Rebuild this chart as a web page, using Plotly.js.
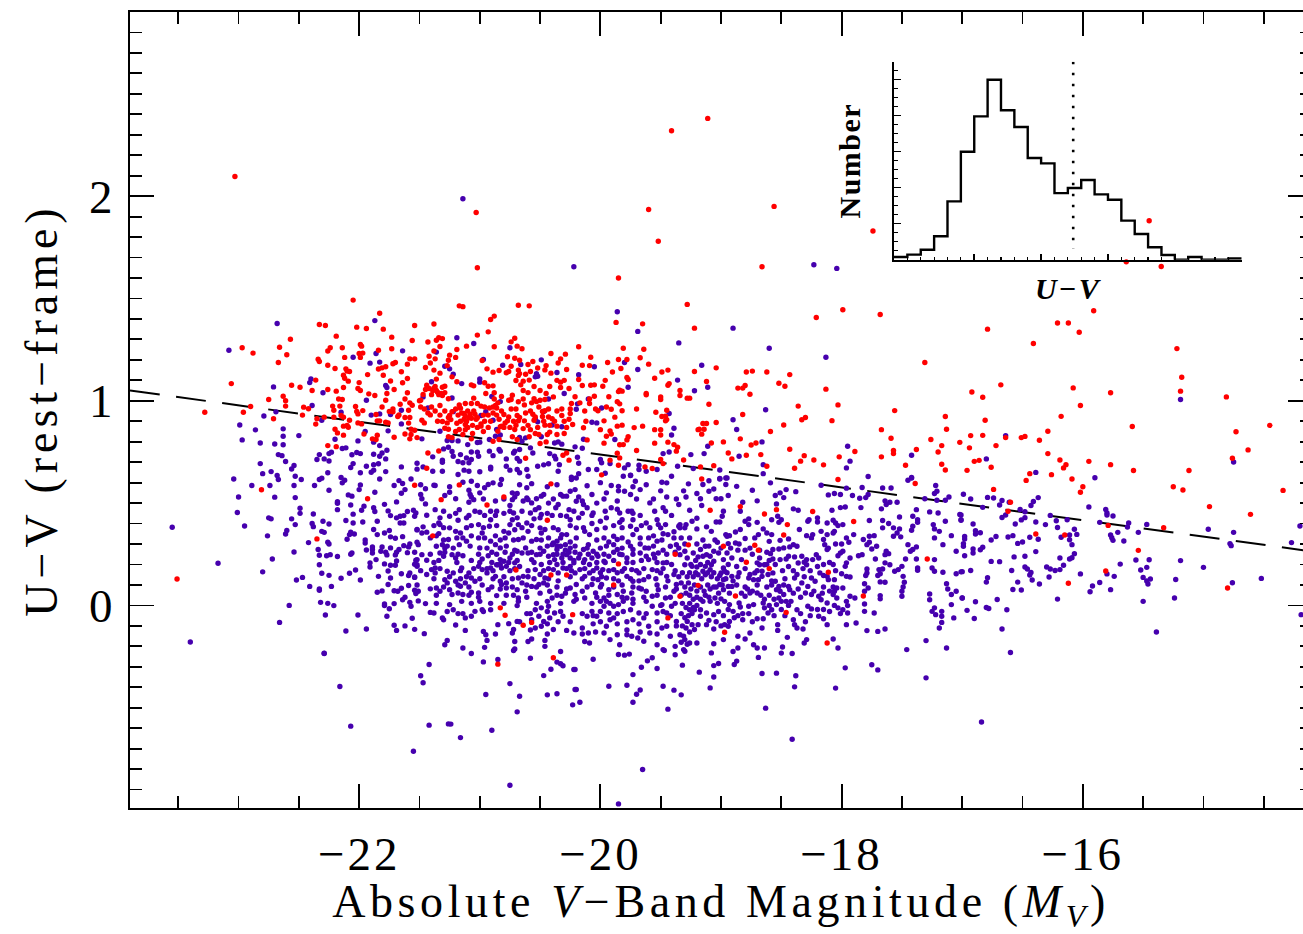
<!DOCTYPE html>
<html><head><meta charset="utf-8">
<script src="https://cdn.plot.ly/plotly-3.0.1.min.js"></script>
<style>
html,body{margin:0;padding:0;background:#fff;overflow:hidden;width:1303px;height:934px}
#chart{width:1325px;height:934px}
.xtitle{letter-spacing:4.6px}
.ytitle{letter-spacing:5px}
.x2title{letter-spacing:2px}
.y2title{letter-spacing:1.5px}
.xtick text{letter-spacing:3px}
</style></head><body><div id="chart"></div>
<script>
// values, as flat magnitude,colour pairs
const purpleOutliers=[-21.14,1.987,-20.22,1.655,-18.23,1.665,-18.04,1.647,-17.7,-.315,-17.75,-.29,-17.3,-.354,-16.84,-.57,-16.6,-.23,-15.39,-.13];
const purpleBottom=[-22.29,-.235,-22.16,-.396,-22.07,-.59,-21.42,-.289,-21.49,-.344,-21.47,-.378,-21.42,-.585,-21.26,-.579,-21.24,-.58,-21.16,-.646,-21.55,-.713,-20.9,-.61,-20.75,-.879,-20.69,-.52,-20.67,-.444,-20.75,-.382,-20.95,-.435,-20.97,-.276,-20.85,-.264,-21.07,-.235,-20.58,-.258,-20.47,-.343,-20.41,-.312,-20.36,-.277,-20.33,-.285,-20.31,-.295,-20.22,-.313,-20.44,-.437,-20.36,-.432,-20.21,-.411,-20.23,-.486,-20.17,-.473,-20.72,-.22,-20.33,-.225,
-20.06,-.263,-20.21,-.313,-20.2,-.411,-19.85,-.24,-19.8,-.243,-19.76,-.238,-19.61,-.271,-19.57,-.256,-19.66,-.302,-19.73,-.338,-19.53,-.308,-19.93,-.395,-19.78,-.39,-19.67,-.413,-19.7,-.434,-19.73,-.473,-19.48,-.395,-19.39,-.414,-19.33,-.437,-19.44,-.507,-19.65,-.802,-19.85,-.97,-19.38,-.241,-19.32,-.292,-19.18,-.326,-19.06,-.294,-19.02,-.284,-19.06,-.35,-19.09,-.403,-18.89,-.289,-18.87,-.272,-18.69,-.254,-18.66,-.333,-18.54,-.331,-18.38,-.344,-18.39,-.398,-18.63,-.502,-18.41,-.654,-18.05,-.404,-17.97,-.305,-18.5,-.233,-18.41,-.235,-19.08,-.232,-18.9,-.225,-19.47,-.22,-19.3,-.224];
const purpleLeftLow=[-23.04,.618,-22.8,.644,-22.73,.654,-22.68,.635,-22.67,.615,-22.89,.586,-22.74,.586,-22.54,.586,-22.53,.631,-22.48,.615,-23,.53,-22.7,.529,-22.53,.527,-22.37,.586,-22.33,.615,-22.31,.622,-22.26,.648,-22.25,.563,-22.15,.625,-22.12,.612,-22.14,.599,-21.99,.648,-21.99,.589,-22,.566,-21.9,.651,-21.88,.661,-21.78,.654,-21.83,.618,-21.71,.586,-21.67,.61,-21.64,.596,-21.57,.618,-21.62,.566,-21.65,.548,-21.87,.553,-22.09,.54,-22.06,.534,-21.69,.506,-22.18,.507,-22.18,.499,-22.07,.491,-21.79,.494,-22.18,.468,-21.98,.465,-21.96,.485,-21.88,.477,-21.87,.459,-22.49,.475,-23.01,.454,-22.49,.45,-22.38,.447,-22.05,.446,-21.76,.462,-21.74,.439,-21.69,.428,-21.66,.436,-21.63,.439,-21.6,.459,-21.55,.465,-21.53,.452,-21.54,.436,-22.75,.428,-22.73,.423,-22.56,.423,-22.95,.388,-23.55,.382,-22.53,.395,-22.39,.4,-22.38,.385,-22.3,.411,-22.25,.398,-22.11,.415,-22.05,.403,-21.97,.408,-21.85,.411,-21.66,.403,-21.63,.403,-21.52,.369,-21.88,.371,-21.75,.366,-21.79,.354,-21.85,.346,-22.6,.366,-22.61,.349,-22.31,.362,-22.29,.357,-22.07,.358,-22.08,.346,-22.04,.349,-22.76,.34,-21.74,.335,-21.7,.328,-21.64,.336,-22.1,.323,-21.95,.32,-21.95,.305,-22.42,.307,-22.26,.309,-22.25,.3,-21.52,.309,-21.58,.3,-21.59,.286,-21.63,.292,-21.67,.273,-21.69,.26,-21.7,.247,-21.89,.286,-21.94,.271,-21.89,.273,-21.89,.256,-21.81,.286,-21.82,.265,-21.74,.281,-21.78,.26,-21.77,.247,-21.6,.258,-22.54,.261,-22.34,.273,-22.33,.245,-22.27,.243,-22.24,.248,-22.18,.239,-22.07,.25,-22.06,.256,-22.72,.227,-23.17,.206,-21.86,.224,-21.53,.221,-21.54,.201,-21.52,.191,-21.91,.208,-21.91,.188,-21.79,.203,-21.74,.196,-21.7,.196,-21.69,.217,-22.33,.199,-21.76,.168,-22.8,.164,-22.31,.157,-22.25,.147,-22.08,.157,-22.03,.173,-22.15,.133,-21.99,.124,-22.47,.137,-22.52,.124,-21.84,.142,-21.74,.134,-21.65,.155,-21.58,.159,-21.59,.146,-21.54,.137,-22.41,.093,-22.23,.093,-22.33,.08,-22.33,.074,-21.76,.102,-21.59,.097,-21.85,.064,-21.81,.071,-21.71,.072,-21.68,.069,-21.65,.084,-21.54,.074,-21.53,.058,-21.51,.069,-21.64,.028,-21.62,.04,-21.51,.022,-22.32,.015,-22.26,.01,-22.21,-.001,-22.58,0,-21.79,.007,-21.79,-.001,-21.71,.009,-21.75,-.016,-21.58,.015,-21.57,-.004,-22.28,-.047,-22.01,-.047,-21.77,-.053,-21.56,-.063,-22.66,-.083,-21.71,-.097,-21.69,-.122,-21.62,-.1,-21.54,-.117,-22.11,-.125,-21.94,-.115,-23.4,-.179,-22.29,-.234];
const purpleLeftHigh=[-22.68,1.378,-23.08,1.247,-21.87,1.392,-21.64,1.244,-21.86,1.231,-22.05,1.213,-21.91,1.184,-21.83,1.189,-22.4,1.107,-22.41,1.089,-22.71,1.068,-22.3,1.039,-21.78,1.075,-21.77,1.065,-21.94,1.003,-22.39,.977,-22.69,.946,-22.79,.926,-22.15,.944,-21.65,.954,-21.9,.93,-21.83,.936,-21.74,.933,-22.31,.905,-22.99,.882,-21.65,.887,-22.86,.858,-22.63,.863,-22.63,.827,-22.5,.83,-22.97,.809,-22.82,.794,-22.7,.789,-22.63,.785,-21.95,.85,-21.76,.853,-22.01,.804,-21.88,.798,-21.83,.781,-22.2,.812,-22.14,.767,-22.11,.77,-21.77,.758,-22.67,.737,-22.64,.732,-22.33,.737,-22.35,.713,-22.29,.716,-22.25,.742,-22.23,.749,-22.25,.706,-22.06,.736,-22.02,.747,-21.99,.742,-21.88,.739,-21.81,.745,-21.83,.729,-21.78,.716,-22.61,.703,-22.82,.693,-22.54,.684,-22.56,.667,-22.05,.693,-22.07,.674,-21.88,.688,-21.84,.692,-21.94,.68,-21.65,.677,-21.52,.695,-21.52,.666];
const purpleMidHigh=[-19.86,1.435,-19.69,1.339,-19.35,1.283,-21.19,1.308,-21.05,1.28,-20.75,1.259,-21.36,1.238,-20.97,1.202,-20.81,1.174,-20.66,1.177,-20.49,1.2,-21.29,1.169,-21.25,1.156,-21.22,1.13,-20.36,1.138,-20.53,1.132,-20.52,1.12,-20.54,1.117,-20.18,1.127,-20.05,1.166,-19.8,1.187,-19.69,1.153,-19.36,1.101,-19.22,1.049,-21.4,1.093,-21,1.107,-21,1.091,-21.15,1.084,-19.77,1.066,-20.3,1.036,-21.47,1.019,-21.23,1.014,-20.9,1.021,-20.1,1.009,-20.83,.996,-20.43,1.009,-21.43,.965,-20.19,.985,-20.2,.959,-19.99,.965,-20.95,.947,-20.99,.928,-21.22,.947,-20.47,.948,-19.43,.938,-20.54,.912,-20.52,.897,-20.89,.905,-20.07,.895,-20.03,.892,-19.39,.866,-21.33,.851,-20.86,.86,-20.4,.882,-20.32,.873,-21.48,.814,-19.41,.833,-21.18,.804,-21.27,.806,-21.23,.806,-19.88,.811,-20.83,.833,-20.87,.827,-20.92,.811,-20.62,.819,-20.65,.802,-20.67,.821,-20.49,.824,-20.14,.812,-21.1,.786,-21.02,.796,-21,.798,-20.38,.794,-20.35,.799,-20.32,.788,-20.58,.77,-20.56,.745,-20.21,.775,-20.15,.768,-21.3,.765,-21.26,.773,-20.92,.754,-20.84,.762,-20.83,.754,-20.71,.754,-20.72,.745,-20.67,.762,-21.23,.752,-21.16,.737,-21.22,.729,-21.07,.75,-21.02,.749,-21.01,.729,-20.89,.732,-20.78,.716,-20.69,.718,-20.67,.705,-20.42,.742,-20.38,.729,-20.37,.716,-20.19,.724,-20.18,.695,-20.34,.688,-21.31,.71,-21.31,.7,-21.39,.726,-21.11,.721,-21.07,.713,-21.14,.697,-21.09,.697,-21.18,.703,-20.91,.675,-20.78,.68,-20.69,.664,-20.75,.661,-20.52,.68,-20.47,.687,-20.43,.692,-20,.713,-20.1,.664,-20.03,.664,-19.99,.697,-19.92,.693,-19.77,.688,-19.8,.672,-19.68,.685,-19.68,.664,-19.62,.656,-19.53,.664,-19.48,.742,-19.43,.75,-19.36,.68,-19.41,.631,-19.23,.669,-19.25,.737,-21.47,.677,-21.39,.656,-21.31,.656,-21.18,.64,-21.13,.661,-21.09,.656,-21,.653,-20.91,.667,-20.67,.648,-20.61,.664,-20.6,.631,-20.35,.656,-20.24,.626,-20.18,.644,-19.96,.646,-19.81,.631,-19.75,.636,
-18.9,1.355,-18.6,1.257,-18.13,1.213,-19.16,1.174,-19.11,1.066,-18.63,.956,-18.9,.907,-18.87,.86,-18.66,.799,-19.11,.778,-17.95,.778,-19.14,.742,-18.85,.729,-17.42,.734,-17.93,.705,-18.65,.688,-18.65,.644,-17.96,.672,-17.78,.63,-19.01,.662,-19.01,.62,-18.95,.623,-17.42,.623];
const purpleRight=[-19.27,.594,-19.1,.609,-19.15,.591,-19.01,.618,-18.96,.623,-18.96,.591,-18.87,.582,-18.59,.599,-19.31,.56,-19.2,.547,-19.1,.558,-19.06,.569,-18.94,.537,-18.74,.563,-19.29,.53,-19.17,.521,-19.04,.521,-19,.521,-18.46,.566,-18.51,.55,-18.55,.537,-18.48,.527,-18.38,.556,-18.17,.587,-18.11,.54,-18.06,.547,-18.01,.542,-17.96,.573,-17.83,.576,-17.91,.537,-17.85,.524,-17.8,.527,-17.78,.542,-17.66,.574,-17.59,.574,-17.45,.612,-17.42,.625,-17.22,.586,-17.21,.558,-17.23,.547,-17.11,.53,-17.54,.504,-17.6,.504,-17.64,.511,-17.63,.493,-17.31,.521,-17.21,.514,-17.14,.514,-19.16,.488,-19.26,.465,-18.82,.504,-18.7,.511,-18.54,.496,-18.98,.46,-18.99,.436,-18.84,.46,-18.4,.472,-18.36,.465,-18.08,.465,-18.01,.478,-17.97,.481,-17.84,.478,-17.67,.472,-17.52,.432,-17.38,.468,-17.41,.436,-17.27,.457,-17.2,.452,-17.37,.419,-17.37,.406,-17.02,.444,-17.01,.419,-18.53,.436,-18.5,.419,-18.52,.406,-18.58,.419,-18.77,.423,-18.8,.411,-18.7,.406,-19.2,.426,-19.24,.411,-19.29,.395,-19.34,.395,-19.04,.408,-19.01,.408,-18.2,.428,-18.27,.419,-18.28,.411,-18.2,.408,-18.12,.403,-18.07,.416,-18.05,.403,-18.03,.39,-17.99,.395,-17.9,.346,-17.77,.415,-17.66,.415,-17.66,.379,-17.61,.4,-17.57,.379,-17.52,.374,-17.54,.354,-17.51,.335,-17.57,.338,-17.41,.387,-17.42,.367,-17.24,.395,-17.23,.374,-17.19,.362,-17.23,.33,-17.14,.411,-17.09,.341,-18.77,.395,-18.84,.371,-18.88,.359,-18.93,.341,-18.96,.346,-18.95,.338,-19.2,.374,-19.12,.384,-19.08,.362,-19.3,.379,-19.34,.379,-19.26,.33,-18.65,.374,-18.62,.354,-18.58,.346,-18.69,.346,-18.72,.33,-18.8,.327,-18.88,.305,-19.03,.309,-18.94,.302,-18.35,.371,-18.29,.341,-18.25,.33,-18.24,.346,-18.17,.362,-18.12,.346,-18.15,.322,-18.07,.354,-18.06,.362,-17.96,.33,-17.94,.309,-17.82,.322,-17.77,.338,-17.73,.341,-17.77,.309,-17.79,.297,-17.71,.289,-17.75,.276,-18.14,.297,-18.12,.273,-18.6,.313,-18.51,.318,-18.44,.325,-18.4,.297,-18.37,.289,-18.43,.286,-18.48,.281,-18.52,.276,-18.57,.273,-18.62,.26,-18.59,.253,-17.45,.297,-17.38,.286,-17.41,.273,-17.43,.265,-17.05,.265,-17.16,.297,-17.63,.265,-17.64,.248,-17.61,.253,-18.01,.256,-17.99,.265,-18.03,.243,-17.86,.243,-17.83,.248,-17.93,.232,-17.96,.208,-17.97,.191,-17.72,.227,-17.64,.208,-17.6,.199,-17.47,.227,-17.38,.227,-17.23,.224,-18.21,.248,-18.19,.232,-18.24,.224,-18.29,.224,-18.31,.211,-18.39,.237,-18.36,.207,-18.29,.199,-18.51,.224,-18.46,.227,-18.57,.227,-18.68,.232,-18.7,.208,-18.68,.199,-18.64,.199,-18.83,.224,-18.91,.232,-18.98,.224,-19.06,.216,-19.08,.199,-19.17,.273,-19.13,.289,-19.12,.248,-19.06,.265,-19.02,.256,-18.95,.256,-19.3,.265,-19.34,.248,-19.23,.256,-19.28,.232,-19.19,.237,-19.3,.199,-19.24,.191,-19.2,.188,-19.13,.191,-19.09,.175,-19.15,.167,-18.98,.183,-19,.159,-18.97,.167,-18.91,.142,-19.01,.146,-18.98,.126,-18.76,.151,-18.72,.159,-18.77,.134,-18.73,.126,-18.66,.167,-18.66,.142,-18.61,.151,-18.57,.159,-18.69,.126,-18.37,.151,-18.39,.134,-18.25,.134,-18.22,.118,-18.18,.159,-18.15,.146,-18.12,.142,-18.06,.126,-18.11,.126,-18,.155,-17.96,.142,-17.93,.139,-17.79,.178,-17.79,.159,-17.8,.146,-17.69,.175,-17.68,.155,-17.7,.146,-17.66,.178,-17.56,.167,-17.53,.175,-17.5,.191,-17.37,.183,-17.37,.172,-17.25,.183,-17.23,.167,-17.16,.162,-17.05,.155,-17.01,.164,-17.49,.142,-17.48,.113,-17.49,.09,-17.5,.069,-17.5,.045,-17.68,.115,-17.64,.113,-17.81,.106,-17.78,.085,-17.81,.069,-18.07,.09,-18.04,.085,-17.99,.085,-18.06,.069,-18.07,.053,-18.04,.036,-17.93,.045,-17.96,.02,-17.95,-.001,-17.89,.036,-17.68,.048,-17.68,.032,-17.81,.007,-17.13,.106,-17.12,.08,-17.09,.053,-17.05,.069,-17,.036,-17.27,.056,-17.27,.028,-17.09,.004,-17.23,-.012,-17.25,-.029,-17.22,-.045,-17.17,-.029,-17.17,-.053,-17.07,-.061,-17.17,-.083,-17.19,-.11,-18.55,.118,-18.52,.093,-18.54,.077,-18.51,.069,-18.43,.077,-18.44,.093,-18.28,.093,-18.3,.061,-18.19,.045,-18.17,.028,-18.25,.053,-18.28,-.004,-18.25,-.017,-18.12,.012,-18.03,-.012,-17.99,-.021,-17.95,-.037,-18.01,-.04,-18.48,.053,-18.52,.036,-18.5,.02,-18.54,.004,-18.46,.02,-18.37,-.021,-18.42,.02,-18.39,-.094,-18.37,-.11,-18.32,-.115,-18.65,.012,-18.64,-.012,-18.61,-.037,-18.58,-.021,-18.7,.061,-18.76,.061,-18.8,.045,-18.77,-.004,-18.73,.004,-18.85,.012,-18.84,-.008,-18.93,.004,-18.9,-.029,-18.86,-.05,-18.82,-.04,-18.82,-.07,-18.7,-.065,-18.65,-.065,-19.01,.102,-18.98,.077,-18.94,.093,-18.91,.093,-19.05,.036,-19,.032,-19.09,.02,-19.15,.02,-19.17,-.021,-19.26,-.021,-19.22,-.021,-19.17,-.053,-19.12,-.037,-19.06,-.045,-19.1,-.073,-19.12,-.094,-19.28,-.078,-19.24,-.094,-19.22,-.118,-19.19,-.094,-19.06,-.115,-18.93,-.078,-18.94,-.102,-18.97,-.094,-19.34,-.143,-19.3,-.167,-19.26,-.184,-19.2,-.184,-19.31,-.216,-19.06,-.187,-18.98,-.167,-18.86,-.151,-18.8,-.164,-18.76,-.135,-18.73,-.192,-18.7,-.208,-18.66,-.11,-18.86,-.208,-18.64,-.208,-18.53,-.094,-18.53,-.122,-18.45,-.156,-18.31,-.184,-18.29,-.167,-18.49,-.203,-18.19,-.053,-18.15,-.065,-18.12,-.094,-17.96,-.094,-17.88,-.086,-18.03,-.208,-18.07,-.164,-17.79,-.123,-17.7,-.127,-17.64,-.115,-17.46,-.216,-17.3,-.172,-17.13,-.208,-17.73,-.037,-17.81,-.029];
const purpleRightDense=[-19.32,.16,-19.28,.14,-19.26,.16,-19.23,.14,-19.21,.16,-19.19,.15,-19.16,.13,-19.13,.15,-19.11,.16,-19.08,.14,-19.06,.16,-19.33,.11,-19.3,.09,-19.27,.11,-19.25,.08,-19.22,.1,-19.2,.07,-19.17,.09,-19.14,.07,-19.11,.1,-19.09,.08,-19.06,.09,-19.33,.05,-19.29,.06,-19.26,.05,-19.23,.03,-19.2,.04,-19.17,.03,-19.13,.05,-19.1,.04,-19.32,.01,-19.29,-.01,-19.26,.01,-19.23,-.01,-19.2,0,-19.33,-.04,-19.3,-.06,-19.27,-.05,-19.24,-.04,-19.32,-.1,-19.29,-.11,-19.26,-.13,-19.33,-.18,-19.28,-.19,-19.03,.13,-19.04,.09,-19.02,.06,-18.99,.1,-18.96,.13,-18.93,.06,-18.9,.12,-18.87,.1,-18.86,.14,-18.83,.06,-18.8,.09,-18.78,.08,-18.74,.07,-18.7,.1,-18.67,.05,-18.62,.09,-18.6,.05,-18.64,.03,-18.58,.1,-18.56,.03,-18.48,.1,-18.47,.13,-18.58,.12,-18.33,.11,-18.31,.14,-18.36,.08,-18.34,.04,-18.4,.06,-18.23,.07,-18.15,.09,-18.16,.06,-18.1,.07,-18.94,-.02,-18.98,-.05,-19.02,-.03,-19.04,-.08,-19,-.1,-19.03,.01,-18.97,.02,-18.89,-.06,-18.77,-.04,-18.74,-.08,-18.6,0,-18.56,-.05,-18.5,-.02,-18.47,-.05,-18.44,0,-18.4,-.07,-18.34,-.04,-18.3,-.08,-18.26,-.05,-18.2,-.02,-18.15,-.02,-18.1,-.03,-18.06,0,-19.25,.2,-19.21,.22,-19.17,.2,-19.11,.21,-19.09,.24,-19.15,.24,-19.2,.3,-19.15,.32,-19.1,.29,-19.05,.32,-19.3,.3,-19.33,.33,-19,.28,-18.92,.28,-18.86,.27,-18.8,.27,-18.85,.3,-18.76,.28,-18.74,.25,-18.68,.27,-18.8,.18,-18.87,.19,-18.94,.2,-18.95,.16,-18.85,.16,-18.7,.17,-18.62,.2,-18.6,.22,-18.55,.2,-18.49,.17,-18.44,.19,-18.4,.17,-18.44,.24,-18.33,.24,-18.32,.18,-18.26,.17,-18.2,.19,-18.15,.2,-18.1,.21,-18.07,.2,-18.05,.17,-18.11,.28,-18.05,.3,-18,.3];
const purpleCenter=[-21.38,.587,-21.37,.586,-21.49,.542,-21.48,.521,-21.45,.496,-21.25,.553,-21.29,.537,-21.14,.602,-21.09,.563,-21.07,.607,-21.08,.542,-21.05,.517,-21.09,.504,-21.2,.521,-21.02,.586,-21,.55,-20.93,.591,-20.89,.599,-20.83,.591,-20.82,.615,-20.73,.55,-20.69,.547,-20.71,.53,-20.73,.517,-20.75,.488,-20.61,.525,-20.57,.501,-20.6,.517,-20.49,.534,-20.53,.521,-20.47,.542,-20.33,.542,-20.31,.534,-20.28,.534,-20.25,.558,-20.21,.566,-20.24,.615,-20.2,.623,-20.07,.542,-19.95,.55,-19.91,.586,-19.85,.582,-19.75,.542,-19.8,.558,-19.71,.607,-19.67,.566,-19.75,.635,-19.59,.501,-19.48,.477,-19.49,.602,-19.45,.599,-19.46,.46,-19.35,.493,
-21.37,.468,-21.33,.428,-21.34,.403,-21.44,.441,-21.25,.436,-21.17,.468,-21.18,.416,-21.11,.428,-21.04,.46,-21,.455,-20.91,.419,-20.91,.46,-20.86,.46,-20.92,.387,-20.75,.46,-20.72,.452,-20.69,.428,-20.73,.419,-20.68,.395,-20.61,.403,-20.75,.395,-20.54,.468,-20.51,.477,-20.49,.444,-20.58,.452,-20.55,.423,-20.5,.428,-20.37,.477,-20.35,.493,-20.26,.468,-20.22,.46,-20.2,.509,-20.14,.493,-20.11,.477,-20.18,.428,-20.28,.436,-20.25,.419,-20.06,.452,-20,.411,-19.95,.428,-19.91,.477,-19.84,.452,-19.82,.419,-19.84,.406,-19.77,.46,-19.74,.46,-19.73,.419,-19.62,.403,-19.53,.419,-19.52,.395,-19.5,.379,-19.46,.395,
-21.47,.384,-21.52,.371,-21.44,.358,-21.48,.354,-21.33,.395,-21.34,.351,-21.25,.379,-21.26,.322,-21.2,.362,-21.16,.354,-21.14,.33,-21.11,.314,-21.17,.297,-21.01,.395,-20.98,.354,-20.96,.33,-20.91,.314,-20.87,.297,-20.83,.281,-21,.281,-20.8,.362,-20.76,.354,-20.79,.33,-20.68,.322,-20.6,.362,-20.57,.314,-20.53,.322,-20.5,.379,-20.46,.371,-20.49,.354,-20.43,.33,-20.39,.305,-20.36,.314,-20.32,.346,-20.28,.346,-20.2,.379,-20.13,.362,-20.09,.346,-20.03,.371,-19.96,.379,-19.89,.338,-19.86,.322,-19.75,.387,-19.7,.371,-19.73,.346,-19.6,.33,-19.53,.314,-19.44,.346,-19.35,.387,
-21.51,.297,-21.52,.224,-21.48,.248,-21.44,.221,-21.36,.289,-21.31,.297,-21.33,.256,-21.29,.281,-21.23,.248,-21.2,.232,-21.3,.24,-21.37,.183,-21.14,.243,-20.98,.227,-20.93,.243,-20.83,.224,-20.8,.216,-20.85,.199,-20.75,.232,-20.69,.265,-20.65,.256,-20.62,.281,-20.6,.256,-20.71,.208,-20.57,.224,-20.53,.248,-20.47,.265,-20.4,.297,-20.36,.273,-20.33,.289,-20.29,.297,-20.39,.248,-20.38,.224,-20.32,.232,-20.25,.232,-20.22,.208,-20.28,.248,-20.18,.232,-20.14,.273,-20.1,.297,-20.06,.265,-20.02,.24,-20.07,.232,-20.13,.224,-19.89,.297,-19.86,.273,-19.93,.24,-19.97,.216,-19.82,.248,-19.78,.232,-19.73,.273,-19.67,.256,-19.63,.281,-19.6,.224,-19.55,.232,-19.52,.256,-19.48,.208,-19.42,.289,-19.37,.297,
-21.52,.199,-21.54,.139,-21.4,.175,-21.37,.159,-21.27,.167,-21.29,.126,-21.22,.159,-21.2,.118,-21.44,.151,-21.15,.183,-21.09,.159,-21.07,.134,-21.04,.118,-21.12,.11,-21.01,.191,-20.98,.175,-20.91,.183,-20.86,.199,-20.82,.183,-20.78,.191,-20.94,.159,-20.87,.142,-20.83,.118,-20.78,.11,-20.64,.142,-20.68,.134,-20.54,.175,-20.5,.151,-20.46,.134,-20.39,.175,-20.35,.159,-20.31,.183,-20.25,.191,-20.21,.159,-20.17,.175,-20.13,.142,-20.09,.159,-20.03,.183,-19.98,.175,-20.02,.126,-19.95,.134,-19.89,.175,-19.82,.167,-19.78,.142,-19.74,.175,-19.68,.159,-19.73,.118,-19.64,.126,-19.57,.175,-19.5,.159,-19.45,.142,-19.39,.151,-19.37,.102,
-21.41,.081,-21.36,.085,-21.33,.069,-21.25,.077,-21.27,.11,-21.23,.053,-21.18,.061,-21.14,.053,-21.07,.064,-21.01,.061,-21.16,.094,-20.93,.077,-20.86,.048,-20.82,.102,-20.78,.085,-20.69,.077,-20.65,.11,-20.68,.036,-20.62,.069,-20.57,.093,-20.51,.102,-20.47,.11,-20.42,.069,-20.4,.036,-20.32,.045,-20.25,.085,-20.2,.102,-20.15,.069,-20.21,.053,-20.07,.102,-20.13,.036,-20.04,.061,-19.99,.102,-19.93,.077,-19.97,.036,-19.95,.02,-19.86,.053,-19.81,.069,-19.78,.036,-19.74,.061,-19.68,.085,-19.62,.069,-19.57,.045,-19.52,.077,-19.46,.036,-19.39,.069,
-21.45,.009,-21.41,-.034,-21.38,-.037,-21.31,-.061,-21.3,-.07,-21.25,.004,-21.22,-.021,-21.18,-.04,-21.12,-.061,-21.07,-.053,-21.04,-.029,-20.98,-.021,-20.91,-.021,-20.69,-.001,-20.61,-.04,-20.54,-.021,-20.49,-.012,-20.43,-.004,-20.51,-.053,-20.47,-.078,-20.42,-.061,-20.38,-.037,-20.31,-.053,-20.85,-.094,-20.76,-.089,-20.69,-.078,-20.72,-.118,-20.73,-.135,-20.11,-.053,-20.07,-.029,-20.03,-.053,-19.97,-.004,-19.93,-.037,-19.89,-.004,-19.92,-.07,-19.95,-.102,-19.85,.004,-19.89,-.061,-19.75,-.021,-19.68,-.037,-19.73,-.07,-19.64,-.061,-19.57,-.004,-19.53,-.037,-19.49,.004,-19.45,-.037,-19.6,-.102,-19.37,-.078,-19.41,-.004,
-21.46,-.138,-21.2,-.096,-21.12,-.122,-20.97,-.127,-20.95,-.143,-20.94,-.171,-21.27,-.171,-21.29,-.192,-21.14,-.208,-20.96,-.205,-20.71,-.176,-20.71,-.213,-20.6,-.176,-20.57,-.164,-20.46,-.171,-20.46,-.2,-20.54,-.11,-20.49,-.102,-20.39,-.118,-20.28,-.122,-20.22,-.135,-20.15,-.11,-20.1,-.135,-19.97,-.135,-19.86,-.143,-19.78,-.143,-19.74,-.151,-20.13,-.176,-20.09,-.184,-19.92,-.167,-19.84,-.192,-19.69,-.159,-19.64,-.175,-19.53,-.192,-19.48,-.216,-19.38,-.2,-19.59,-.135,-19.49,-.11,-19.45,-.102,-19.42,-.151];
const purpleCenterDense=[-21.49,.59,-21.45,.57,-21.25,.58,-20.96,.575,-20.67,.59,-20.61,.575,-20.57,.595,-20.44,.58,-20.36,.59,-20.11,.585,-20,.6,-19.85,.56,-19.73,.58,-19.62,.59,-19.5,.56,-21.07,.53,-20.97,.52,-20.87,.51,-20.8,.52,-20.64,.51,-20.43,.5,-20.39,.52,-20.18,.53,-20.15,.51,-20.03,.5,-19.97,.52,-19.86,.51,-19.7,.52,-19.56,.52,-19.45,.53,-19.37,.52,-21.3,.46,-21.2,.45,-21.09,.44,-20.96,.44,-20.87,.44,-20.8,.45,-20.65,.46,-20.44,.45,-20.4,.44,-20.33,.44,-20.15,.45,-20.07,.44,-19.96,.46,-19.86,.47,-19.73,.45,-19.67,.44,-19.55,.46,-19.41,.44,-21.38,.39,-21.3,.38,-21.11,.38,-21.07,.39,-20.97,.38,-20.86,.39,-20.71,.37,-20.65,.38,-20.57,.39,-20.39,.38,-20.35,.37,-20.25,.39,-20.14,.38,-20.07,.4,-19.89,.39,-19.82,.38,-19.66,.39,-19.59,.38,-19.48,.35,-19.39,.36,-21.41,.33,-21.36,.34,-21.3,.32,-21.19,.33,-21.07,.34,-21.01,.33,-20.87,.34,-20.83,.32,-20.72,.32,-20.64,.33,-20.49,.32,-20.33,.33,-20.25,.31,-20.2,.33,-20.03,.32,-19.97,.33,-19.93,.31,-19.82,.33,-19.77,.31,-19.67,.33,-19.56,.34,-19.49,.32,-19.39,.33,-21.27,.29,-21.22,.28,-21.08,.29,-20.94,.28,-20.78,.29,-20.71,.27,-20.5,.28,-20.44,.29,-20.36,.29,-20.29,.27,-20.25,.28,-20.21,.29,-20.11,.28,-20,.28,-19.95,.29,-19.82,.28,-19.75,.29,-19.67,.3,-19.6,.28,-19.56,.29,-19.48,.27,-19.35,.28,-21.54,.26,-21.41,.25,-21.29,.26,-21.18,.25,-21.01,.25,-20.9,.26,-20.86,.25,-20.79,.26,-20.73,.25,-20.57,.26,-20.5,.25,-20.43,.24,-20.36,.25,-20.31,.25,-20.26,.26,-20.21,.26,-20.17,.25,-20.1,.25,-20.03,.25,-19.97,.25,-19.89,.26,-19.84,.25,-19.73,.25,-19.62,.24,-19.56,.25,-19.45,.25,-19.38,.26,-21.38,.21,-21.34,.22,-21.19,.21,-21.07,.22,-21,.21,-20.9,.21,-20.83,.2,-20.76,.21,-20.69,.22,-20.55,.21,-20.49,.2,-20.42,.21,-20.36,.2,-20.31,.21,-20.22,.22,-20.14,.21,-20.09,.2,-20.03,.21,-19.96,.21,-19.89,.22,-19.78,.21,-19.73,.21,-19.66,.22,-19.53,.21,-19.45,.21,-19.41,.2,-21.49,.17,-21.33,.18,-21.16,.17,-21.05,.18,-20.94,.18,-20.89,.17,-20.75,.17,-20.71,.18,-20.67,.19,-20.6,.17,-20.47,.17,-20.43,.18,-20.28,.18,-20.24,.17,-20.13,.18,-20.06,.17,-20,.16,-19.93,.17,-19.86,.16,-19.8,.18,-19.7,.17,-19.64,.18,-19.53,.17,-19.48,.18,-19.38,.17,-21.38,.13,-21.25,.14,-21.16,.13,-21.11,.14,-21,.13,-20.89,.13,-20.8,.14,-20.73,.13,-20.6,.14,-20.55,.13,-20.43,.13,-20.35,.12,-20.25,.14,-20.15,.13,-20.06,.13,-19.99,.14,-19.89,.13,-19.85,.12,-19.75,.13,-19.68,.12,-19.6,.14,-19.54,.13,-19.44,.12,-19.35,.14,-21.52,.1,-21.3,.09,-21.18,.1,-21.09,.09,-20.98,.1,-20.9,.09,-20.83,.08,-20.73,.09,-20.61,.1,-20.53,.09,-20.44,.1,-20.36,.09,-20.28,.08,-20.11,.09,-20,.09,-19.89,.09,-19.82,.1,-19.73,.09,-19.66,.08,-19.53,.1,-19.46,.09,-19.37,.08,-21.36,.05,-21.09,.05,-21.01,.04,-20.78,.05,-20.72,.05,-20.61,.04,-20.5,.06,-20.36,.05,-20.29,.06,-20.2,.03,-20.03,.04,-19.93,.05,-19.82,.04,-19.73,.03,-19.64,.04,-19.53,.05,-19.42,.04,-21.36,.01,-21.15,.02,-21.07,.01,-21,.02,-20.91,.01,-20.8,.01,-20.68,.02,-20.53,.01,-20.44,.02,-20.33,.01,-20.22,.02,-20.07,.01,-20,.02,-19.92,.01,-19.81,.02,-19.73,.01,-19.62,.02,-19.5,0,-19.38,.01,-21.27,-.03,-21.14,-.04,-20.97,-.03,-20.58,-.04,-20.44,-.03,-20.33,-.03,-20.15,-.04,-20.06,-.05,-20,-.03,-19.86,-.04,-19.81,-.03,-19.62,-.04,-19.48,-.03,-19.42,-.05,-20.67,-.08,-20.57,-.07,-20.44,-.09,-20.35,-.08,-20.25,-.08,-20.06,-.09,-20,-.08,-19.86,-.09,-19.78,-.08,-19.68,-.09,-19.53,-.08,-19.37,-.1,-20.87,-.14,-20.58,-.12,-20.44,-.14,-20.15,-.14,-20.04,-.13,-19.78,-.12,-19.67,-.13,-19.53,-.14,-19.31,-.15];
const purpleFaint=[-16.64,.83,-16.8,.716,-16.39,.65,-15.9,.624,-15.19,1.006,-14.75,.701,-16.99,.543,-16.93,.52,-16.79,.528,-16.74,.525,-16.67,.513,-16.69,.491,-16.61,.504,-16.83,.479,-16.37,.527,-16.41,.508,-16.43,.488,-16.52,.469,-16.48,.458,-15.95,.481,-15.81,.469,-15.8,.452,-15.8,.442,-15.75,.437,-17.01,.442,-17.01,.416,-16.64,.442,-16.67,.43,-16.48,.429,-16.51,.418,-16.27,.44,-16.22,.414,-16.13,.419,-16.39,.408,-16.31,.395,-16.21,.381,-15.86,.406,-15.62,.403,-15.63,.383,-15.54,.357,-15.47,.396,-16.91,.398,-16.56,.398,-14.96,.372,-14.75,.357,-14.2,.388,-14.27,.307,-14.78,.302,-14.77,.292,-15.71,.357,-15.77,.344,-15.76,.331,-15.75,.318,-15.66,.315,-16.07,.372,-16.05,.347,-16.11,.344,-16.11,.321,-16.18,.333,-16.09,.297,-16.37,.323,-16.44,.333,-16.54,.303,-16.5,.31,-16.58,.341,-16.62,.334,-16.72,.337,-16.76,.32,-16.89,.365,-16.89,.349,-16.85,.355,-16.98,.337,-16.98,.324,-16.99,.302,-16.99,.289,-16.91,.276,-16.91,.256,-16.98,.243,-16.83,.284,-16.85,.272,-16.39,.263,-16.57,.237,-16.48,.24,-16.76,.215,-16.69,.214,-16.07,.253,-16.09,.233,-16.11,.227,-16.19,.232,-16.16,.196,-16.19,.175,-16.23,.171,-16.27,.178,-16.3,.188,-16.48,.188,-16.46,.178,-16.43,.161,-16.44,.149,-16.59,.171,-15.56,.222,-15.45,.223,-15.19,.219,-15.69,.202,-15.52,.173,-15.47,.186,-15,.186,-17,.165,-16.93,.171,-16.02,.154,-15.8,.154,-15.74,.142,-15.5,.137,-15.44,.129,-15.47,.119,-15.46,.105,-15.23,.127,-14.52,.132,-14.76,.111,-16.28,.139,-16.42,.124,-16.54,.114,-16.8,.114,-16.79,.135,-16.36,.105,-15.86,.112,-15.92,.095,-15.94,.067,-15.77,.077,-16.58,.078,-16.51,.075,-16.21,.031,-17,.036,-16.89,.018,-16.71,.029,-16.96,-.024,-16.8,-.01,-16.78,-.015,-16.63,-.021,-16.9,-.064,-15.5,.02,-15.24,.036,-16.67,-.115,-14.19,-.045];
const redOutliers=[-23.03,2.096,-19.41,2.32,-19.11,2.38,-21.03,1.92,-19.6,1.935,-19.52,1.78,-18.56,1.95,-21.02,1.65,-18.66,1.655,-17.74,1.83,-19.85,1.6,-21.14,1.46,-15.45,1.88,-15.64,1.679,-15.35,1.656,-15.91,1.44,-16.21,1.38,-16.12,1.38,-16.03,1.335,-16.41,1.28,-15.22,1.255,-15.18,1.115,-16.79,1.35];
const redFaint=[-16.92,1.043,-16.83,1.017,-16.68,1.078,-16.08,1.063,-15.77,1.039,-15.19,1.047,-14.81,1.019,-16.02,.977,-16.81,.905,-16.18,.924,-15.59,.874,-14.45,.88,-14.73,.849,-16.29,.851,-16.93,.83,-16.83,.831,-16.64,.82,-16.51,.82,-16.48,.826,-16.36,.807,-17.02,.797,-16.72,.781,-16.94,.77,-14.63,.76,-16.29,.742,-14.76,.719,-16.9,.704,-16.86,.709,-16.19,.711,-15.95,.704,-15.77,.688,-16.14,.688,-16.16,.672,-16.76,.675,-16.96,.66,-15.58,.659,-15.12,.659,-16.44,.644,-16.47,.611,-16.26,.639,-16.09,.618,-16,.58,-16.02,.553,-15.25,.58,-15.17,.564,-14.34,.562,-16.74,.567,-14.95,.483,-14.61,.445,-16.6,.504,-16.62,.46,-15.79,.391,-15.33,.38,-16.39,.349,-16.15,.344,-15.54,.269,-15.81,.168,-16.12,.108,-14.8,.085];
const redLeft=[-20.85,-.287,-20.39,-.256,-22.81,.565,-21.93,.521,-21.54,.587,-22.35,.325,-23.51,.129,-22.05,1.492,-21.83,1.428,-22.33,1.373,-22.28,1.368,-22.02,1.36,-21.94,1.353,-21.8,1.35,-21.54,1.368,-22.19,1.316,-21.73,1.311,-21.56,1.295,-22.57,1.301,-22.97,1.259,-22.88,1.233,-22.66,1.262,-22.6,1.225,-21.99,1.275,-21.98,1.267,-22.24,1.259,-22.26,1.243,-22.14,1.259,-21.73,1.254,-21.84,1.247,-22,1.231,-21.97,1.233,-21.99,1.212,-22.12,1.212,-22.34,1.203,-22.33,1.192,-22.67,1.187,-22.26,1.174,-22.2,1.158,-21.58,1.205,-21.54,1.205,-21.6,1.179,-21.72,1.181,-21.7,1.187,-21.84,1.155,-21.81,1.161,-21.78,1.166,-22.11,1.156,-22.08,1.143,-22.1,1.145,-22.13,1.125,-21.93,1.128,-21.8,1.125,-21.65,1.142,-22.12,1.11,-22.09,1.096,-22.36,1.101,-21.74,1.097,-21.6,1.109,-21.64,1.088,-22,1.089,-23.06,1.084,-22.56,1.076,-22.49,1.066,-22.39,1.05,-22.26,1.055,-22.19,1.047,-22.13,1.065,-22.01,1.06,-21.99,1.05,-21.71,1.055,-21.92,1.034,-21.87,1.026,-21.6,1.039,-21.77,1.036,-21.62,1.009,-22.63,1.022,-22.75,1.006,-22.61,1,-22.17,1.009,-22.14,1.006,-21.78,1.003,-21.5,1,-21.66,.983,-21.58,.99,-21.56,.978,-22.9,.972,-22.61,.974,-22.46,.969,-22.42,.961,-22.22,.974,-22.21,.954,-22.16,.974,-22.03,.972,-22.02,.948,-22.01,.936,-21.81,.97,-21.97,.952,-21.72,.96,-21.75,.948,-21.72,.946,-21.59,.954,-22.96,.944,-23.28,.944,-22.47,.93,-22.21,.92,-22.15,.928,-22.13,.92,-22.29,.92,-22.35,.912,-21.86,.933,-21.67,.931,-21.68,.923,-21.62,.918,-21.58,.918,-22.71,.912,-22.08,.905,-22.36,.886,-21.85,.902,-21.83,.902,-21.78,.895,-21.76,.892,-22.01,.892,-21.98,.887,-21.59,.891,-22.13,.876,-22.1,.879,-22.09,.871,-22.2,.861,-22.18,.843,-21.57,.861,-21.54,.856,-22.13,.832,-21.62,.838,-21.57,.835,-21.58,.814,-21.85,.832,-21.96,.838,-21.89,.814,-21.86,.811,-21.71,.822,-21.52,.82,-22.26,.781,-22.19,.776];
const redMid=[-21.17,1.464,-20.68,1.467,-20.59,1.464,-19.28,1.471,-21.38,1.375,-20.91,1.397,-20.88,1.414,-19.87,1.383,-19.65,1.376,-19.22,1.355,-20.93,1.337,-21.02,1.321,-21.36,1.296,-21.34,1.308,-21.31,1.304,-21.43,1.287,-20.74,1.288,-20.71,1.306,-21.11,1.267,-21.33,1.265,-20.88,1.264,-20.69,1.267,-20.65,1.254,-21.19,1.251,-20.18,1.264,-19.81,1.257,-19.64,1.252,-21.38,1.243,-20.41,1.231,-21.25,1.223,-20.29,1.228,-21.42,1.218,-21.2,1.212,-20.77,1.215,-20.71,1.208,-20.08,1.213,-19.85,1.202,-19.78,1.202,-19.67,1.21,-20.33,1.205,-20.35,1.185,-21.26,1.198,-20.98,1.197,-21.37,1.205,-21.41,1.185,-20.67,1.198,-20.56,1.192,-20.6,1.177,-19.94,1.187,-20.15,1.174,-20.09,1.172,-19.6,1.179,-20.45,1.172,-20.46,1.151,-21.45,1.163,-21.27,1.172,-20.94,1.156,-20.89,1.14,-20.84,1.148,-20.78,1.137,-20.76,1.143,-20.74,1.169,-20.68,1.15,-20.67,1.133,-21.38,1.15,-21.33,1.135,-20.58,1.143,-20.41,1.135,-20.28,1.153,-19.83,1.158,-19.9,1.141,-19.49,1.141,-19.44,1.15,-19.22,1.143,-20.68,1.124,-20.7,1.099,-20.59,1.101,-20.64,1.096,-20.66,1.078,-21.36,1.106,-21.23,1.117,-20.18,1.104,-19.78,1.114,-19.77,1.104,-19.55,1.11,-20.33,1.091,-20.33,1.065,-21.19,1.093,-20.96,1.088,-20.93,1.071,-21.07,1.078,-21.05,1.073,-21.44,1.076,-21.37,1.07,-21.38,1.062,-21.29,1.071,-21.31,1.066,-20.15,1.075,-20.08,1.076,-20.05,1.078,-19.98,1.071,-19.43,1.084,-19.44,1.076,-20.89,1.073,-21.45,1.055,-21.35,1.042,-21.32,1.036,-21.31,1.026,-20.88,1.039,-20.95,1.036,-19.84,1.052,-19.82,1.047,-19.85,1.045,-19.34,1.05,-19.34,1.026,-19.28,1.013,-19.26,1.013,-20.45,1.036,-19.62,1.036,-19.62,1.029,-20.82,1.021,-21.47,1.031,-21.49,1.003,-20.73,1.027,-20.76,1.003,-20.74,1.006,-20.64,1.009,-20.39,1.019,-20.46,1.006,-20.5,1.003,-20.53,.996,-20.05,1.022,-20.09,1.009,-19.5,1.019,-19.5,1.006,-21.05,1.013,-20.88,1.009,-20.68,.995,-20.85,.99,-20.87,.977,-20.86,.965,-20.63,.98,-20.57,.99,-20.46,.951,-20.24,.987,-20.25,.96,-20.09,.987,-19.86,.995,-19.84,.985,-21.33,.977,-21.17,.98,-21.16,.964,-21.12,.987,-21.07,.987,-21.02,.987,-20.99,.974,-20.89,.97,-20.92,.965,-20.04,.96,-20.02,.951,-19.91,.959,-19.82,.951,-19.45,.954,-19.54,.944,-21.41,.931,-21.23,.947,-21.25,.928,-21.13,.938,-21.08,.934,-21.04,.934,-20.8,.933,-20.76,.921,-20.69,.928,-20.67,.918,-20.68,.902,-20.56,.934,-20.54,.921,-20.48,.948,-20.48,.923,-20.43,.921,-20.4,.912,-20.32,.928,-20.25,.938,-21.48,.905,-21.46,.892,-21.35,.9,-21.31,.899,-21.26,.918,-21.24,.908,-21.27,.892,-21.12,.925,-21.09,.917,-21.07,.915,-21.11,.899,-21.02,.917,-20.99,.887,-20.96,.9,-20.77,.902,-20.79,.892,-20.82,.876,-20.8,.87,-20.7,.881,-20.63,.902,-20.55,.905,-20.46,.881,-20.23,.884,-19.97,.902,-20,.859,-19.86,.876,-19.82,.881,-19.72,.869,-19.65,.876,-19.46,.925,-19.49,.923,-19.46,.902,-19.45,.908,-19.55,.859,-19.5,.859,-19.5,.833,-19.19,.859,-21.29,.866,-21.26,.861,-21.12,.884,-21.12,.859,-21.14,.835,-20.99,.876,-20.85,.851,-20.83,.873,-20.64,.864,-20.58,.859,-20.54,.84,-20.51,.835,-20.42,.847,-20.44,.835,-20.36,.876,-20.36,.835,-20.3,.84,-20.14,.868,-19.95,.827,-19.91,.838,-19.92,.853,-19.77,.824,-19.78,.809,-19.55,.793,-19.44,.798,-19.39,.786,-19.36,.773,-19.37,.754,-21.26,.824,-21.23,.82,-21.07,.814,-20.89,.802,-20.84,.811,-20.73,.824,-20.69,.811,-20.59,.824,-20.5,.791,-20.45,.799,-20.11,.809,-19.97,.793,-19.84,.785,-19.81,.786,-19.7,.757,-21.34,.755,-21.43,.745,-20.62,.719,-20.31,.734,-20.28,.745,-20.26,.71,-19.92,.71,-19.86,.744,-19.84,.721,-19.63,.677,-19.57,.669,-19.5,.713,-19.48,.693,-19.31,.711,-19.99,.638,-19.85,.685,-21.44,.67];
const redCluster=[-21.42,1.06,-21.39,1.05,-21.36,1.05,-21.34,1.03,-21.4,1.03,-21.29,1.04,-21.26,1.01,-21.49,.97,-21.46,.96,-21.43,.94,-21.4,.97,-21.37,.95,-21.29,.95,-21.33,.93,-21.2,.96,-21.18,.93,-21.15,.94,-21.13,.91,-21.1,.95,-21.05,.95,-21.03,.91,-20.97,.93,-20.96,.97,-20.93,.93,-20.91,.9,-20.89,.94,-20.86,.93,-20.84,.91,-20.82,.95,-21.19,.89,-21.16,.9,-21.1,.87,-21.06,.88,-21.02,.87,-21.2,.85,-21.17,.86,-21.06,.84,-20.97,.85,-20.93,.87,-20.75,.87,-20.72,.9,-20.71,.86,-20.6,.88,-20.52,.87,-20.47,.9,-20.42,.88,-20.38,.9,-20.28,.87,-20.26,.91,-20.74,.96,-20.7,.96,-20.62,.94,-20.58,.95,-20.51,.97,-20.43,.96,-20.36,.95,-20.32,.96,-20.3,.9,-20.55,1.01,-20.6,1.04,-20.64,1.05,-20.55,1.07,-20.5,1.05,-20.42,1.07,-20.36,1.1,-20.62,1.13,-20.52,1.16,-20.3,1.1,-20.26,1.06,-20.21,1.02,-20.17,.99,-20.13,.95,-20.12,.9,-19.95,.97,-19.93,1.02,-19.96,1.1,-19.88,.92,-19.7,.96];
const redUpperRight=[-18.21,1.407,-17.99,1.445,-17.68,1.422,-17.31,1.187,-19.04,1.161,-18.79,1.141,-18.74,1.145,-18.62,1.141,-18.43,1.128,-19.12,1.094,-18.86,1.062,-18.82,1.062,-18.8,1.075,-18.76,1.032,-18.52,1.086,-18.47,1.071,-18.13,1.057,-19.1,.983,-18.36,.974,-18.03,.98,-17.56,.952,-18.82,.933,-19.04,.894,-19.15,.889,-19.12,.889,-19.18,.861,-19.14,.861,-19.16,.837,-18.33,.907,-18.3,.918,-18.48,.882,-18.08,.903,-17.14,.923,-18.59,.85,-17.67,.859,-17.13,.861,-18.84,.814,-18.98,.799,-19.08,.794,-18.71,.794,-18.75,.784,-17.59,.817,-17.26,.811,-17.17,.781,-18.43,.763,-17.89,.752,-17.38,.762,-17.57,.757,-17.57,.742,-17.2,.75,-18.94,.745,-18.91,.716,-18.79,.734,-18.67,.737,-18.31,.732,-18.34,.705,-18.23,.711,-18.02,.726,-18.15,.687,-17.67,.726,-19.06,.683,-19.17,.677,-18.62,.68,-18.39,.67,-17.47,.685,-17.17,.69,-17.14,.662,-19.16,.618,-18.03,.615];
const redScatterLow=[-18.84,.483,-19.09,.465,-18.64,.447,-18.54,.468,-18.45,.395,-18.24,.459,-17.9,.41,-17.39,.596,-18.48,.344,-18.72,.294,-18.69,.27,-18.98,.289,-19.27,.296,-18.79,.211,-18.6,.18,-18.11,.162,-17.29,.227,-19.19,.098,-18.88,.046,-17.82,.046,-18.46,-.034,-18.97,-.131,-18.12,-.184,-19.34,.045,-21.17,.589,-20.41,.594,-20.8,.53,-21.32,.517,-20.94,.491,-20.44,.416,-21.39,.34,-19.38,.25,-19.85,.203,-20.7,.173,-20.41,.149,-20.28,.149,-19.89,.1,-20.83,-.012,-20.79,-.048,-20.23,-.045,-19.44,-.061,-20.57,-.083,-20.64,-.097];
const histLeftEdges=[-.6,-.5,-.4,-.3,-.2,-.1,0,.1,.2,.3,.4,.5,.6,.7,.8,.9,1,1.1,1.2,1.3,1.4,1.5,1.6,1.7,1.8,1.9];
const histCounts=[1.5,2.8,5.5,13,32.4,60,79.6,100,83,73.7,56.5,53.5,37,39.8,44.3,36.3,33.3,21.7,14.3,6.9,2.6,0,1.5,0,.2,.7];
const histBinWidth=.1;
const splitLine={x:[-23.9,-14.1],y:[1.05,.264]};
const splitColour={x:[.74,.74],y:[110,6]};

function xs(a){return a.filter((_,i)=>i%2===0)}
function ys(a){return a.filter((_,i)=>i%2===1)}
const purple=[].concat(purpleOutliers,purpleBottom,purpleLeftLow,purpleLeftHigh,purpleMidHigh,purpleRight,purpleRightDense,purpleCenter,purpleCenterDense,purpleFaint);
const red=[].concat(redOutliers,redFaint,redLeft,redMid,redCluster,redUpperRight,redScatterLow);
const hx=[],hy=[];
histLeftEdges.forEach((e,i)=>{hx.push(e,e+histBinWidth);hy.push(histCounts[i],histCounts[i])});

const FONT='"Liberation Serif",serif';
const mk=(c)=>({color:c,size:5.4,line:{width:0}});
const traces=[
 {type:'scatter',mode:'lines',x:splitLine.x,y:splitLine.y,line:{color:'#000',width:2,dash:'30px,16.5px'},hoverinfo:'skip'},
 {type:'scatter',mode:'markers',x:xs(purple),y:ys(purple),marker:mk('#4600AE')},
 {type:'scatter',mode:'markers',x:xs(red),y:ys(red),marker:mk('#FF0000')},
 {type:'scatter',mode:'lines',x:hx,y:hy,xaxis:'x2',yaxis:'y2',line:{color:'#000',width:2.4},cliponaxis:false},
 {type:'scatter',mode:'lines',x:splitColour.x,y:splitColour.y,xaxis:'x2',yaxis:'y2',line:{color:'#000',width:2.6,dash:'2.6px,8.4px'},cliponaxis:false}
];
const minor=(d,l)=>({dtick:d,ticks:'inside',ticklen:l,tickcolor:'#000',tickwidth:1.8,showgrid:false});
const layout={
 width:1325,height:934,showlegend:false,paper_bgcolor:'#fff',plot_bgcolor:'rgba(0,0,0,0)',
 margin:{l:130,r:13,t:12.3,b:125.7},
 font:{family:FONT,color:'#000'},
 xaxis:{range:[-23.9,-14.1],domain:[0,1],tick0:-22,dtick:2,ticks:'inside',ticklen:24,tickwidth:1.8,tickcolor:'#000',minor:minor(.5,12),
  showline:true,linewidth:2.2,linecolor:'#000',mirror:'ticks',showgrid:false,zeroline:false,ticklabelstandoff:3,
  tickfont:{family:FONT,size:47},title:{text:'Absolute <i>V</i>\u2212Band Magnitude (<i>M<sub>V</sub></i>)',font:{family:FONT,size:46},standoff:12}},
 yaxis:{range:[-.99,2.9],domain:[0,1],tick0:0,dtick:1,ticks:'inside',ticklen:24,tickwidth:1.8,tickcolor:'#000',minor:minor(.1,12),
  showline:true,linewidth:2.2,linecolor:'#000',mirror:'ticks',showgrid:false,zeroline:false,ticklabelstandoff:6,
  tickfont:{family:FONT,size:47},title:{text:'U\u2212V (rest\u2212frame)',font:{family:FONT,size:46},standoff:17}},
 xaxis2:{anchor:'y2',domain:[(894-130)/1182,(1241.7-130)/1182],range:[-.6,2],tick0:0,dtick:.5,ticks:'inside',ticklen:6,tickwidth:1.5,tickcolor:'#000',
  minor:{dtick:.1,ticks:'inside',ticklen:3,tickcolor:'#000',tickwidth:1.2},showline:true,linewidth:2.5,linecolor:'#000',showgrid:false,zeroline:false,showticklabels:false,
  title:{text:'<i>U\u2212V</i>\u00a0\u00a0\u00a0\u00a0\u00a0\u00a0\u00a0',font:{family:FONT,size:30,weight:'bold'},standoff:17}},
 yaxis2:{anchor:'x2',domain:[(808.3-260)/796,(808.3-62)/796],range:[0,110],tick0:0,dtick:20,ticks:'inside',ticklen:7,tickwidth:1.5,tickcolor:'#000',
  minor:{dtick:5,ticks:'inside',ticklen:3.5,tickcolor:'#000',tickwidth:1.2},showline:true,linewidth:2.5,linecolor:'#000',showgrid:false,zeroline:false,showticklabels:false,
  title:{text:'Number',font:{family:FONT,size:30,weight:'bold'},standoff:22}}
};
Plotly.newPlot('chart',traces,layout,{displayModeBar:false,staticPlot:true});
</script></body></html>
